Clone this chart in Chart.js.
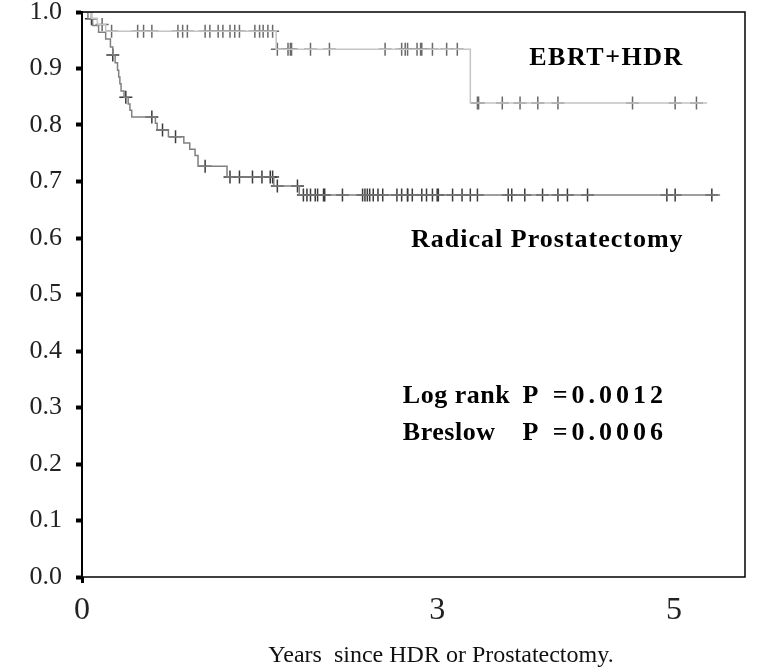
<!DOCTYPE html>
<html>
<head>
<meta charset="utf-8">
<script src="https://cdn.jsdelivr.net/npm/chart.js@4.4.1/dist/chart.umd.min.js"></script>
<style>
  html, body { margin: 0; padding: 0; background: #fff; }
  #wrap { width: 780px; height: 671px; }
</style>
</head>
<body>
<div id="wrap"><canvas id="km"></canvas></div>
<script>
// Kaplan-Meier steps (years, survival after the step)
const ebrtTimes = [0, 0.08, 0.13, 0.20, 1.64, 3.28, 5.28];
const ebrtSurv  = [1.0, 0.989, 0.978, 0.966, 0.934, 0.839, 0.839];
const ebrtCensored = [0.17, 0.25, 0.47, 0.52, 0.59, 0.81, 0.85, 0.89, 1.04, 1.08, 1.15, 1.19,
  1.25, 1.29, 1.33, 1.46, 1.50, 1.53, 1.57, 1.61, 1.65, 1.74, 1.76, 1.77, 1.93, 2.09,
  2.56, 2.70, 2.73, 2.75, 2.83, 2.86, 2.87, 2.96, 3.08, 3.17, 3.34, 3.35, 3.55, 3.70,
  3.85, 4.02, 4.65, 5.01, 5.19];

const rpTimes = [0, 0.05, 0.09, 0.14, 0.20, 0.24, 0.26, 0.28, 0.30, 0.31, 0.32, 0.33,
  0.355, 0.39, 0.405, 0.42, 0.62, 0.635, 0.73, 0.86, 0.91, 0.955, 0.98, 1.225, 1.62, 1.835, 5.39];
const rpSurv = [1.0, 0.988, 0.976, 0.964, 0.952, 0.938, 0.924, 0.910, 0.897, 0.885, 0.873, 0.860,
  0.849, 0.837, 0.826, 0.814, 0.803, 0.791, 0.779, 0.768, 0.757, 0.746, 0.727, 0.708, 0.692, 0.676, 0.676];
const rpCensored = [0.08, 0.26, 0.37, 0.59, 0.68, 0.79, 1.04, 1.25, 1.33, 1.44, 1.52, 1.59, 1.61,
  1.65, 1.82, 1.87, 1.90, 1.93, 1.97, 1.99, 2.04, 2.05, 2.20, 2.37, 2.39, 2.41, 2.43, 2.46,
  2.50, 2.54, 2.66, 2.70, 2.75, 2.75, 2.79, 2.87, 2.91, 2.96, 3.00, 3.01, 3.13, 3.21, 3.28,
  3.34, 3.60, 3.63, 3.74, 3.89, 4.02, 4.10, 4.27, 4.94, 5.01, 5.32];

const yTicks = [0, 0.1, 0.2, 0.3, 0.4, 0.5, 0.6, 0.7, 0.8, 0.9, 1.0];
const xTicks = [0, 3, 5];

// survival value of a step curve at time t (for placing censor marks)
function survivalAt(times, surv, t) {
    let s = surv[0];
    for (let i = 0; i < times.length; i++) {
        if (times[i] <= t) s = surv[i];
    }
    return s;
}

const toPoints = (times, surv) => times.map((t, i) => ({ x: t, y: surv[i] }));
const toCensor = (list, times, surv) => list.map(t => ({ x: t, y: survivalAt(times, surv, t) }));

const serif = "'Liberation Serif', 'Times New Roman', serif";

// frame, in-plot labels and the x title
const framePlugin = {
    id: 'frame',
    afterDraw(chart) {
        const { ctx, chartArea: a, scales } = chart;
        const px = v => scales.x.getPixelForValue(v);
        const py = v => scales.y.getPixelForValue(v);
        ctx.save();
        ctx.strokeStyle = '#000';
        ctx.lineWidth = 1.5;
        ctx.strokeRect(a.left, a.top, a.right - a.left, a.bottom - a.top);

        ctx.fillStyle = '#000';
        ctx.textBaseline = 'middle';
        ctx.font = `bold 26px ${serif}`;
        ctx.textAlign = 'center';
        ctx.letterSpacing = '1.5px';
        ctx.fillText('EBRT+HDR', px(4.43), py(0.918));
        ctx.letterSpacing = '1px';
        ctx.fillText('Radical Prostatectomy', px(3.93), py(0.596));

        ctx.textAlign = 'left';
        ctx.font = `bold 26px ${serif}`;
        ctx.letterSpacing = '0.5px';
        ctx.fillText('Log rank', px(2.71), py(0.320));
        ctx.fillText('Breslow', px(2.71), py(0.255));
        ctx.letterSpacing = '4px';
        ctx.fillText('P =0.0012', px(3.72), py(0.320));
        ctx.fillText('P =0.0006', px(3.72), py(0.255));

        ctx.letterSpacing = '0px';
        ctx.font = `24px ${serif}`;
        ctx.fillStyle = '#111';
        ctx.textAlign = 'center';
        ctx.fillText('Years  since HDR or Prostatectomy.', 441, 656);
        ctx.restore();
    }
};

new Chart(document.getElementById('km'), {
    type: 'scatter',
    data: {
        datasets: [
            {
                label: 'EBRT+HDR',
                data: toPoints(ebrtTimes, ebrtSurv),
                showLine: true,
                stepped: 'before',
                borderColor: '#c4c4c4',
                borderWidth: 1.5,
                pointRadius: 0
            },
            {
                label: 'Radical Prostatectomy',
                data: toPoints(rpTimes, rpSurv),
                showLine: true,
                stepped: 'before',
                borderColor: '#808080',
                borderWidth: 1.5,
                pointRadius: 0
            },
            {
                label: 'EBRT+HDR censored',
                data: toCensor(ebrtCensored, ebrtTimes, ebrtSurv),
                showLine: false,
                pointStyle: 'cross',
                pointRadius: 6.5,
                borderColor: '#6a6a6a',
                borderWidth: 1.5,
                clip: false
            },
            {
                label: 'Radical Prostatectomy censored',
                data: toCensor(rpCensored, rpTimes, rpSurv),
                showLine: false,
                pointStyle: 'cross',
                pointRadius: 6.5,
                borderColor: '#3a3a3a',
                borderWidth: 1.5,
                clip: false
            }
        ]
    },
    options: {
        responsive: true,
        maintainAspectRatio: false,
        animation: false,
        events: [],
        layout: { padding: { top: 0, right: 35, left: 0, bottom: 0 } },
        plugins: {
            legend: { display: false },
            tooltip: { enabled: false }
        },
        scales: {
            x: {
                type: 'linear',
                min: 0,
                max: 5.6,
                afterBuildTicks: axis => { axis.ticks = xTicks.map(v => ({ value: v })); },
                afterFit: axis => { axis.height = 94; },
                grid: {
                    drawOnChartArea: false,
                    tickLength: 6,
                    tickWidth: 3,
                    tickColor: c => (c.tick && c.tick.value === 0 ? '#000' : 'rgba(0,0,0,0)')
                },
                border: { display: false },
                ticks: {
                    padding: 8,
                    color: '#222',
                    font: { family: serif, size: 32 },
                    maxRotation: 0
                }
            },
            y: {
                type: 'linear',
                min: 0,
                max: 1,
                afterBuildTicks: axis => { axis.ticks = yTicks.map(v => ({ value: v })); },
                afterFit: axis => {
                    axis.width = 82;
                    axis.paddingTop = 12;
                    axis.paddingBottom = 12;
                },
                grid: {
                    drawOnChartArea: false,
                    tickLength: 6,
                    tickWidth: 4,
                    tickColor: '#000'
                },
                border: { display: true, color: '#000', width: 2 },
                ticks: {
                    padding: 14,
                    color: '#222',
                    font: { family: serif, size: 26 },
                    callback: v => v.toFixed(1)
                }
            }
        }
    },
    plugins: [framePlugin]
});
</script>
</body>
</html>
